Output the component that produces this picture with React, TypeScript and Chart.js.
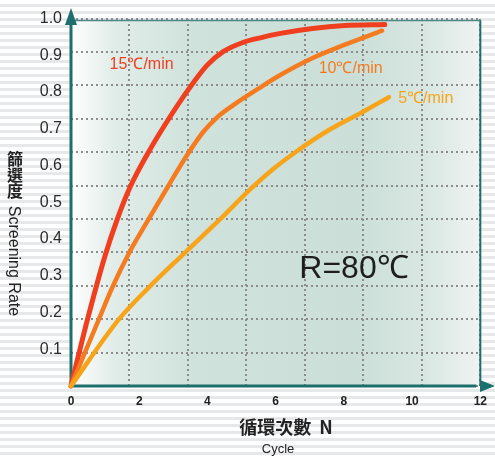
import React, { useEffect, useRef } from "react";
import { Chart, registerables } from "chart.js";

Chart.register(...registerables);

// Data
const cycles15 = [0, 0.48, 0.99, 1.36, 1.73, 2.25, 2.83, 3.45, 3.98, 4.46, 5.04, 5.61, 6.1, 7.08, 8.03, 9.2];
const rate15 = [0, 0.18, 0.352, 0.455, 0.541, 0.633, 0.722, 0.808, 0.872, 0.91, 0.935, 0.949, 0.959, 0.973, 0.981, 0.984];

const cycles10 = [0, 0.81, 1.2, 1.68, 2.25, 2.83, 3.4, 3.88, 4.27, 4.75, 5.52, 6.11, 7.07, 8.03, 9.12];
const rate10 = [0, 0.18, 0.266, 0.358, 0.45, 0.541, 0.628, 0.692, 0.73, 0.764, 0.811, 0.845, 0.892, 0.929, 0.967];

const cycles5 = [0, 1.39, 2.3, 3.33, 4.35, 5.23, 5.92, 6.59, 7.55, 8.51, 9.32];
const rate5 = [0, 0.18, 0.27, 0.362, 0.452, 0.533, 0.59, 0.637, 0.696, 0.744, 0.786];

const seriesLabels = ["15\u2103/min", "10\u2103/min", "5\u2103/min"];
const seriesColors = ["#ef3f1f", "#f47b20", "#f8a41a"];
// label anchor positions (data coordinates)
const labelX = [2.07, 8.2, 10.4];
const labelY = [0.874, 0.863, 0.783];

const xMin = 0;
const xMax = 12;
const xStep = 2;
const yMin = 0;
const yMax = 1;
const yStep = 0.1;

const gridCols = 7;
const gridRows = 11;

const conditionText = "R=80\u2103";
const yTitleCJK = ["篩", "選", "度"];
const yTitleEn = "Screening Rate";
const xTitleCJK = "循環次數  N";
const xTitleEn = "Cycle";

const toPoints = (xs: number[], ys: number[]) => xs.map((x, i) => ({ x, y: ys[i] }));

const TEAL = "#1d6f6e";

const decorPlugin = {
  id: "decor",
  beforeDraw(chart: any) {
    const { ctx, chartArea: a } = chart;
    ctx.save();
    const g = ctx.createLinearGradient(a.left, 0, a.right, 0);
    g.addColorStop(0, "#ffffff");
    g.addColorStop(0.1, "#e2ede9");
    g.addColorStop(0.3, "#cfe2db");
    g.addColorStop(0.7, "#cbdfd8");
    g.addColorStop(0.87, "#d9e7e2");
    g.addColorStop(1, "#f0f3f2");
    ctx.fillStyle = g;
    ctx.fillRect(a.left, a.top + 2, a.right - a.left, a.bottom - a.top - 2);
    ctx.restore();
  },
  beforeDatasetsDraw(chart: any) {
    const { ctx, chartArea: a } = chart;
    ctx.save();
    // thin frame top & right
    ctx.strokeStyle = "#4f8785";
    ctx.lineWidth = 1.5;
    ctx.beginPath();
    ctx.moveTo(a.left, a.top + 2);
    ctx.lineTo(a.right, a.top + 2);
    ctx.stroke();
    ctx.strokeStyle = TEAL;
    ctx.lineWidth = 2;
    ctx.beginPath();
    ctx.moveTo(a.right, a.top + 2);
    ctx.lineTo(a.right, a.bottom);
    ctx.stroke();
    // main axes
    ctx.strokeStyle = TEAL;
    ctx.lineWidth = 3;
    ctx.beginPath();
    ctx.moveTo(a.left, 22);
    ctx.lineTo(a.left, a.bottom);
    ctx.lineTo(a.right - 4, a.bottom);
    ctx.stroke();
    ctx.fillStyle = TEAL;
    ctx.beginPath();
    ctx.moveTo(a.left, 8);
    ctx.lineTo(a.left - 6, 25);
    ctx.lineTo(a.left + 6, 25);
    ctx.closePath();
    ctx.fill();
    ctx.beginPath();
    ctx.moveTo(495, a.bottom);
    ctx.lineTo(480, a.bottom - 6);
    ctx.lineTo(480, a.bottom + 6);
    ctx.closePath();
    ctx.fill();
    ctx.restore();
  },
  afterDraw(chart: any) {
    const { ctx, scales } = chart;
    const sx = scales.x;
    const sy = scales.y;
    ctx.save();
    ctx.textAlign = "center";
    ctx.textBaseline = "middle";
    // series labels
    ctx.font = "16px 'Liberation Sans', Arial, sans-serif";
    seriesLabels.forEach((t, i) => {
      ctx.fillStyle = seriesColors[i];
      ctx.fillText(t, sx.getPixelForValue(labelX[i]), sy.getPixelForValue(labelY[i]));
    });
    // condition
    ctx.fillStyle = "#1e1e1e";
    ctx.font = "32px 'Liberation Sans', Arial, sans-serif";
    ctx.fillText(conditionText, 354, 269);
    // y title
    ctx.fillStyle = "#222";
    ctx.font = "bold 16px 'Noto Sans CJK TC', sans-serif";
    yTitleCJK.forEach((c, i) => ctx.fillText(c, 15, 159 + i * 16));
    ctx.save();
    ctx.translate(13, 261);
    ctx.rotate(Math.PI / 2);
    ctx.font = "16px 'Liberation Sans', Arial, sans-serif";
    ctx.fillText(yTitleEn, 0, 0);
    ctx.restore();
    // x title
    ctx.font = "bold 18px 'Noto Sans CJK TC', sans-serif";
    ctx.fillText(xTitleCJK, 286, 427);
    ctx.font = "13px 'Liberation Sans', Arial, sans-serif";
    ctx.fillText(xTitleEn, 278, 449);
    ctx.restore();
  },
};

export default function App() {
  const canvasRef = useRef<HTMLCanvasElement | null>(null);

  useEffect(() => {
    if (!canvasRef.current) return;
    const ds = [
      toPoints(cycles5, rate5),
      toPoints(cycles10, rate10),
      toPoints(cycles15, rate15),
    ];
    const colors = [seriesColors[2], seriesColors[1], seriesColors[0]];
    const widths = [4.5, 4.5, 5];
    const chart = new Chart(canvasRef.current, {
      type: "line",
      data: {
        datasets: ds.map((d, i) => ({
          data: d,
          borderColor: colors[i],
          borderWidth: widths[i],
          pointRadius: 0,
          fill: false,
          cubicInterpolationMode: "monotone" as const,
          borderCapStyle: "round" as const,
          borderJoinStyle: "round" as const,
          clip: false as any,
        })),
      },
      options: {
        responsive: false,
        animation: false,
        events: [],
        layout: { padding: { top: 17, right: 7, left: 0, bottom: 0 } },
        plugins: { legend: { display: false }, tooltip: { enabled: false }, title: { display: false } },
        scales: {
          x: {
            type: "linear",
            position: "bottom",
            min: xMin,
            max: xMax,
            ticks: {
              stepSize: xStep,
              color: "#222",
              font: { size: 12, weight: "bold", family: "'Liberation Sans', Arial, sans-serif" },
              padding: 8,
              maxRotation: 0,
            },
            grid: { display: false, drawTicks: false },
            border: { display: false },
            afterFit: (s: any) => {
              s.height = 71;
            },
          },
          y: {
            type: "linear",
            position: "left",
            min: yMin,
            max: yMax,
            ticks: {
              stepSize: yStep,
              color: "#2a2a2a",
              font: { size: 16, family: "'Liberation Sans', Arial, sans-serif" },
              padding: 9,
              callback: (v: any) => (Number(v) === 0 ? "" : Number(v).toFixed(1)),
            },
            grid: { display: false, drawTicks: false },
            border: { display: false },
            afterFit: (s: any) => {
              s.width = 71;
            },
          },
          gx: {
            type: "linear",
            position: "top",
            min: 0,
            max: gridCols,
            ticks: { display: false, stepSize: 1 },
            grid: { color: "#8c8c8c", lineWidth: 2, drawTicks: false },
            border: { display: false, dash: [2, 3] },
            afterFit: (s: any) => {
              s.height = 0;
            },
          },
          gy: {
            type: "linear",
            position: "right",
            min: 0,
            max: gridRows,
            ticks: { display: false, stepSize: 1 },
            grid: { color: "#8c8c8c", lineWidth: 2, drawTicks: false },
            border: { display: false, dash: [2, 3] },
            afterFit: (s: any) => {
              s.width = 0;
            },
          },
        },
      } as any,
      plugins: [decorPlugin],
    });
    return () => chart.destroy();
  }, []);

  return (
    <div
      style={{
        position: "fixed",
        left: 0,
        top: 0,
        width: 495,
        height: 457,
        background:
          "repeating-linear-gradient(to bottom, #ffffff 0px, #ffffff 4px, #e7e8ea 4px, #e7e8ea 7px)",
      }}
    >
      <canvas ref={canvasRef} width={495} height={457} style={{ display: "block" }} />
    </div>
  );
}
